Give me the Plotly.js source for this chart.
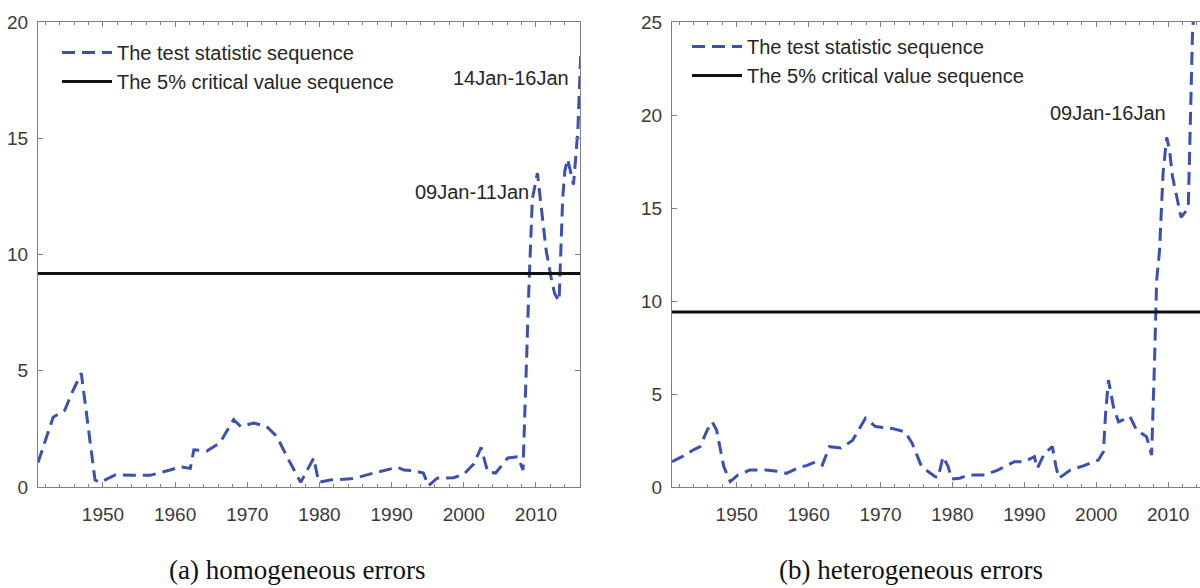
<!DOCTYPE html>
<html>
<head>
<meta charset="utf-8">
<script src="https://cdn.plot.ly/plotly-3.0.1.min.js"></script>
<style>
  html, body { margin: 0; padding: 0; overflow: hidden; background: #fff; }
  #chart { width: 1215px; height: 588px; }
</style>
</head>
<body>
<div id="chart"></div>
<script>
// ---- Panel (a): homogeneous errors ----
const yearsA = [1941.0,1943.1,1944.7,1945.7,1947.0,1948.9,1949.6,1951.7,1954.2,1956.5,1959.3,1960.7,1962.1,1962.6,1964.4,1966.2,1968.1,1969.1,1970.9,1972.7,1974.1,1975.5,1977.4,1978.1,1979.2,1979.9,1981.5,1984.3,1985.2,1987.5,1988.5,1990.8,1991.7,1993.1,1994.4,1995.1,1996.3,1998.6,2000.0,2001.4,2002.4,2003.3,2004.4,2006.1,2007.5,2008.2,2009.0,2009.5,2010.2,2011.4,2012.1,2012.6,2013.2,2013.7,2014.0,2014.4,2015.2,2015.8,2016.2];
const statA  = [1.05,3.0,3.3,4.05,4.9,0.3,0.2,0.52,0.5,0.5,0.73,0.87,0.8,1.6,1.55,1.9,2.9,2.6,2.75,2.6,2.17,1.3,0.2,0.6,1.25,0.2,0.3,0.35,0.4,0.6,0.67,0.85,0.73,0.7,0.6,0.05,0.38,0.4,0.55,1.0,1.7,0.66,0.6,1.25,1.3,0.73,8.4,12.4,13.5,10.2,9.0,8.3,8.0,12.4,13.6,14.1,13.0,15.3,18.6];
const critA = 9.18;

// ---- Panel (b): heterogeneous errors ----
const yearsB = [1941.0,1942.4,1944.0,1944.9,1945.9,1946.6,1947.2,1948.2,1949.1,1950.2,1951.8,1954.1,1956.2,1956.9,1958.7,1959.7,1961.0,1961.9,1962.9,1964.5,1966.1,1967.9,1969.3,1971.6,1973.4,1974.4,1975.7,1977.6,1978.0,1978.7,1979.4,1979.9,1981.0,1982.2,1984.5,1986.3,1988.6,1990.0,1991.4,1991.8,1992.8,1993.9,1994.4,1994.8,1996.4,1998.3,2000.3,2001.0,2001.3,2001.7,2002.4,2003.1,2004.7,2005.6,2007.0,2007.7,2008.1,2008.4,2008.8,2009.3,2009.8,2010.2,2010.6,2011.4,2011.8,2012.8,2013.0,2013.2,2013.4,2013.6];
const statB  = [1.36,1.63,2.0,2.17,3.06,3.5,3.06,1.1,0.29,0.65,0.91,0.91,0.82,0.73,1.06,1.15,1.36,1.18,2.17,2.1,2.5,3.7,3.25,3.15,2.97,2.35,1.1,0.55,0.5,1.63,1.1,0.43,0.47,0.65,0.65,0.91,1.36,1.36,1.63,1.0,1.8,2.17,1.1,0.47,0.91,1.15,1.45,1.9,3.96,5.75,4.3,3.5,3.78,3.06,2.7,1.72,6.65,11.1,12.7,16.9,18.8,18.1,16.7,15.1,14.5,15.0,18.1,20.8,24.6,25.4];
const critB = 9.41;

const xRange = [1941, 2016.1];
const seriesNames = ['The test statistic sequence', 'The 5% critical value sequence'];
const subtitles = ['(a) homogeneous errors', '(b) heterogeneous errors'];
const labelsA = ['14Jan-16Jan', '09Jan-11Jan'];
const labelsB = ['09Jan-16Jan'];

const W = 1215, H = 588;
const blue = '#3a50b2';
const axisCol = '#808080';
const textCol = '#262626';
const sans = 'Liberation Sans, Arial, sans-serif';

const traces = [
  {x: yearsA, y: statA, type: 'scatter', mode: 'lines', name: seriesNames[0],
   line: {color: blue, width: 3, dash: '13px,7px'}, xaxis: 'x', yaxis: 'y', legend: 'legend'},
  {x: xRange, y: [critA, critA], type: 'scatter', mode: 'lines', name: seriesNames[1],
   line: {color: '#111', width: 3}, xaxis: 'x', yaxis: 'y', legend: 'legend'},
  {x: yearsB, y: statB, type: 'scatter', mode: 'lines', name: seriesNames[0],
   line: {color: blue, width: 3, dash: '13px,7px'}, xaxis: 'x2', yaxis: 'y2', legend: 'legend2'},
  {x: xRange, y: [critB, critB], type: 'scatter', mode: 'lines', name: seriesNames[1],
   line: {color: '#111', width: 3}, xaxis: 'x2', yaxis: 'y2', legend: 'legend2'}
];

function xAxis(dom, anchor) {
  return {
    domain: dom, anchor: anchor, range: xRange, showgrid: false, zeroline: false,
    tickmode: 'linear', tick0: 1950, dtick: 10,
    ticks: 'inside', ticklen: 5, tickwidth: 1, tickcolor: axisCol,
    minor: {dtick: 2, tick0: 1950, ticks: 'inside', ticklen: 3, tickcolor: axisCol},
    showline: true, linecolor: axisCol, linewidth: 1, mirror: 'ticks',
    tickfont: {family: sans, size: 19, color: '#3a3a3a'}, ticklabelstandoff: 10
  };
}
function yAxis(range, anchor) {
  return {
    domain: [1 - 487 / H, 1 - 22 / H], anchor: anchor, range: range, showgrid: false, zeroline: false,
    tickmode: 'linear', tick0: 0, dtick: 5,
    ticks: 'inside', ticklen: 5, tickwidth: 1, tickcolor: axisCol,
    showline: true, linecolor: axisCol, linewidth: 1, mirror: 'ticks',
    tickfont: {family: sans, size: 19, color: '#3a3a3a'}, ticklabelstandoff: 5
  };
}

const layout = {
  width: W, height: H,
  margin: {l: 0, r: 0, t: 0, b: 0},
  paper_bgcolor: '#fff', plot_bgcolor: '#fff',
  showlegend: true,
  xaxis: xAxis([38 / W, 580 / W], 'y'),
  yaxis: yAxis([0, 20], 'x'),
  xaxis2: xAxis([672 / W, 1212 / W], 'y2'),
  yaxis2: yAxis([0, 25], 'x2'),
  legend: {x: 57 / W, y: 1 - 33 / H, xanchor: 'left', yanchor: 'top', bgcolor: 'rgba(0,0,0,0)',
           itemwidth: 50, font: {family: sans, size: 20, color: textCol}, tracegroupgap: 0},
  legend2: {x: 687 / W, y: 1 - 27 / H, xanchor: 'left', yanchor: 'top', bgcolor: 'rgba(0,0,0,0)',
            itemwidth: 50, font: {family: sans, size: 20, color: textCol}, tracegroupgap: 0},
  annotations: [
    {xref: 'x', yref: 'y', x: 2014.9, y: 17.6, text: labelsA[0], showarrow: false, xanchor: 'right', yanchor: 'middle',
     font: {family: sans, size: 20, color: textCol}},
    {xref: 'x', yref: 'y', x: 2009.3, y: 12.7, text: labelsA[1], showarrow: false, xanchor: 'right', yanchor: 'middle',
     font: {family: sans, size: 20, color: textCol}},
    {xref: 'x2', yref: 'y2', x: 2010.0, y: 20.1, text: labelsB[0], showarrow: false, xanchor: 'right', yanchor: 'middle',
     font: {family: sans, size: 20, color: textCol}},
    {xref: 'paper', yref: 'paper', x: 297 / W, y: 1 - 570 / H, text: subtitles[0], showarrow: false, xanchor: 'center', yanchor: 'middle',
     font: {family: 'Liberation Serif, Times New Roman, serif', size: 27, color: '#111'}},
    {xref: 'paper', yref: 'paper', x: 911 / W, y: 1 - 570 / H, text: subtitles[1], showarrow: false, xanchor: 'center', yanchor: 'middle',
     font: {family: 'Liberation Serif, Times New Roman, serif', size: 27, color: '#111'}}
  ]
};

Plotly.newPlot('chart', traces, layout, {displayModeBar: false, staticPlot: true});
</script>
</body>
</html>
